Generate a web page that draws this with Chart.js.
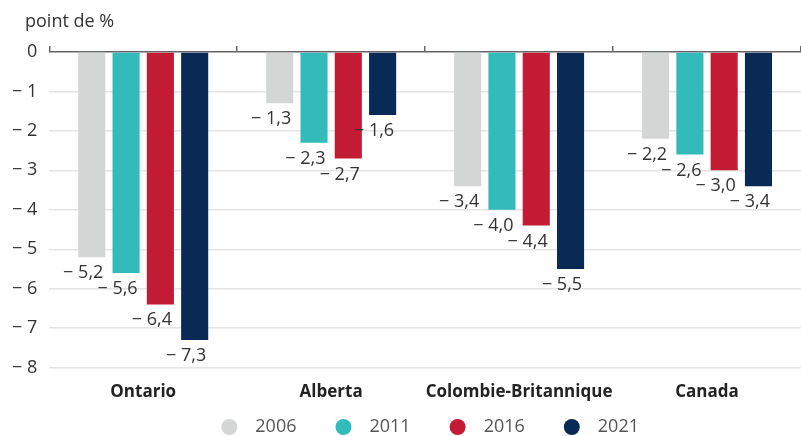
<!DOCTYPE html>
<html>
<head>
<meta charset="utf-8">
<script src="https://cdn.jsdelivr.net/npm/chart.js@4"></script>
<style>
  html, body { margin: 0; padding: 0; background: #fff; }
  #wrap { width: 801px; height: 436px; position: relative; }
</style>
</head>
<body>
<div id="wrap"><canvas id="chart"></canvas></div>
<script>
const categories = ["Ontario", "Alberta", "Colombie-Britannique", "Canada"];
const years = ["2006", "2011", "2016", "2021"];
const values2006 = [-5.2, -1.3, -3.4, -2.2];
const values2011 = [-5.6, -2.3, -4.0, -2.6];
const values2016 = [-6.4, -2.7, -4.4, -3.0];
const values2021 = [-7.3, -1.6, -5.5, -3.4];
const yTicks = [0, -1, -2, -3, -4, -5, -6, -7, -8];
const colors = ["#d4d5d5", "#33bbbc", "#c41b35", "#082a55"];

const FONT = "'Open Sans', 'Noto Sans', sans-serif";
const seriesValues = [values2006, values2011, values2016, values2021];

function tickText(v) {
  return v === 0 ? "0" : "\u2212 " + Math.abs(v);
}

function valueText(v) {
  return (v < 0 ? "\u2212 " : "") + Math.abs(v).toFixed(1).replace(".", ",");
}

const titlePlugin = {
  id: "unitTitle",
  afterDraw(chart) {
    const ctx = chart.ctx;
    ctx.save();
    ctx.font = "18px " + FONT;
    ctx.fillStyle = "#333";
    ctx.textAlign = "left";
    ctx.textBaseline = "middle";
    ctx.fillText("point de %", 25, 22);
    ctx.restore();
  }
};

const valueLabels = {
  id: "valueLabels",
  afterDatasetsDraw(chart) {
    const ctx = chart.ctx;
    ctx.save();
    ctx.font = "18px " + FONT;
    ctx.fillStyle = "#333";
    ctx.textAlign = "right";
    ctx.textBaseline = "alphabetic";
    chart.data.datasets.forEach((ds, i) => {
      chart.getDatasetMeta(i).data.forEach((bar, j) => {
        ctx.fillText(valueText(ds.data[j]), bar.x + bar.width / 2 - 2, bar.y + 21);
      });
    });
    ctx.restore();
  }
};

// legend drawn by hand so the row stays compact
const dotLegend = {
  id: "dotLegend",
  afterDraw(chart) {
    const ctx = chart.ctx;
    const area = chart.chartArea;
    ctx.save();
    ctx.font = "18px " + FONT;
    ctx.textBaseline = "middle";
    ctx.textAlign = "left";
    const r = 8, gapText = 18, gapItem = 39;
    const widths = years.map(y => 2 * r + gapText + ctx.measureText(y).width);
    const total = widths.reduce((a, b) => a + b, 0) + gapItem * (years.length - 1);
    let x = (area.left + area.right) / 2 - total / 2 + 5;
    const y = 427;
    years.forEach((yr, i) => {
      ctx.fillStyle = colors[i];
      ctx.beginPath();
      ctx.arc(x + r, y, r, 0, Math.PI * 2);
      ctx.fill();
      ctx.fillStyle = "#555";
      ctx.fillText(yr, x + 2 * r + gapText, y);
      x += widths[i] + gapItem;
    });
    ctx.restore();
  }
};

new Chart(document.getElementById("chart"), {
  type: "bar",
  data: {
    labels: categories,
    datasets: years.map((y, i) => ({
      label: y,
      data: seriesValues[i],
      backgroundColor: colors[i],
      borderWidth: 0,
      categoryPercentage: 0.73,
      barPercentage: 0.79
    }))
  },
  options: {
    responsive: true,
    maintainAspectRatio: false,
    animation: false,
    layout: { padding: { top: 46, right: 0, left: 0, bottom: 28 } },
    plugins: {
      legend: { display: false },
      tooltip: { enabled: false }
    },
    scales: {
      x: {
        position: "bottom",
        grid: { display: false },
        border: { display: false },
        ticks: {
          color: "#222",
          font: { family: FONT, size: 17, weight: "bold" },
          padding: 6,
          maxRotation: 0,
          minRotation: 0,
          autoSkip: false
        }
      },
      xTop: {
        type: "category",
        labels: categories,
        position: "top",
        offset: true,
        grid: {
          offset: true,
          drawOnChartArea: false,
          drawTicks: true,
          tickLength: 6,
          color: "#666",
          lineWidth: 1.5
        },
        border: { display: true, color: "#666", width: 1.5 },
        ticks: { display: false }
      },
      y: {
        min: -8,
        max: 0,
        afterBuildTicks(axis) {
          axis.ticks = yTicks.map(v => ({ value: v }));
        },
        border: { display: false },
        grid: {
          color: ctx => ctx.tick && ctx.tick.value === 0 ? "rgba(0,0,0,0)" : "#e4e4e4",
          lineWidth: 1.5,
          drawTicks: false
        },
        ticks: {
          color: "#333",
          font: { family: FONT, size: 18 },
          padding: 12,
          callback: v => tickText(v)
        }
      }
    }
  },
  plugins: [titlePlugin, valueLabels, dotLegend]
});
</script>
</body>
</html>
